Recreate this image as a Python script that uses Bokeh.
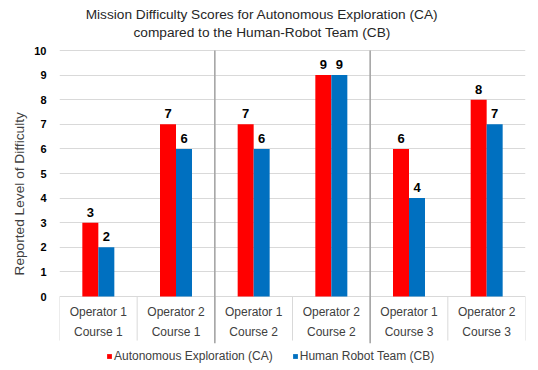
from bokeh.plotting import figure
from bokeh.models import Range1d, FixedTicker, Title, Label, Legend, LegendItem
from bokeh.embed import file_html
from bokeh.resources import INLINE
from bokeh.core.properties import value

# ---- data ----
operators = ["Operator 1", "Operator 2", "Operator 1", "Operator 2", "Operator 1", "Operator 2"]
courses = ["Course 1", "Course 1", "Course 2", "Course 2", "Course 3", "Course 3"]
ca_values = [3, 7, 7, 9, 6, 8]
cb_values = [2, 6, 6, 9, 4, 7]
y_ticks = [0, 1, 2, 3, 4, 5, 6, 7, 8, 9, 10]
series_names = ["Autonomous Exploration (CA)", "Human Robot Team (CB)"]
series_colors = ["#FF0000", "#0070C0"]
title_lines = ["Mission Difficulty Scores for Autonomous Exploration (CA)",
               "compared to the Human-Robot Team (CB)"]
y_label = "Reported Level of Difficulty"
course_separators = [2, 4]

FONT = "Liberation Sans"
n = len(ca_values)
centers = [i + 0.5 for i in range(n)]
bar_w = 0.206
red_x = [c - bar_w / 2 for c in centers]
blue_x = [c + bar_w / 2 for c in centers]

W, H = 530, 364
px_per_unit = 24.6
top_gap, bottom_gap = 50, 68          # pixels above value 10 / below value 0
y_hi = 10 + top_gap / px_per_unit
y_lo = -bottom_gap / px_per_unit

p = figure(width=W, height=H, x_range=Range1d(0, n), y_range=Range1d(y_lo, y_hi),
           output_backend="svg", toolbar_location=None,
           min_border_left=59, min_border_right=5, min_border_top=0, min_border_bottom=0)
p.title = None

# chart title (two centred lines), frame-relative screen units
for line, ty in zip(title_lines, (H - 14, H - 31.5)):
    p.add_layout(Label(x=202.5, y=ty, x_units="screen", y_units="screen", text=line,
                       text_align="center", text_baseline="alphabetic", text_font=FONT,
                       text_font_size="13.7px", text_color="#262626"))

# y-axis title, placed over the value range
p.add_layout(Title(text=y_label, align="left", offset=89,
                   text_font=FONT, text_font_size="13.7px", text_font_style="normal",
                   text_color="#404040", standoff=10), "left")

p.outline_line_color = None
p.xaxis.visible = False
p.xgrid.visible = False
p.ygrid.ticker = FixedTicker(ticks=y_ticks)
p.ygrid.grid_line_color = "#d9d9d9"
p.yaxis.ticker = FixedTicker(ticks=y_ticks)
p.yaxis.axis_line_color = None
p.yaxis.major_tick_line_color = None
p.yaxis.minor_tick_line_color = None
p.yaxis.major_label_text_font = FONT
p.yaxis.major_label_text_font_style = "bold"
p.yaxis.major_label_text_font_size = "11px"
p.yaxis.major_label_text_color = "#000000"
p.yaxis.major_label_standoff = 7

# category-label area borders and course separators
bounds = list(range(n + 1))
p.segment(x0=bounds, y0=[0] * len(bounds), x1=bounds, y1=[-1.79] * len(bounds),
          line_color="#d9d9d9", line_width=1)
p.segment(x0=course_separators, y0=[-1.9] * 2, x1=course_separators, y1=[10] * 2,
          line_color="#a6a6a6", line_width=1.6)

r1 = p.vbar(x=red_x, top=ca_values, bottom=0, width=bar_w, fill_color=series_colors[0], line_color=None)
r2 = p.vbar(x=blue_x, top=cb_values, bottom=0, width=bar_w, fill_color=series_colors[1], line_color=None)

for xs, vals in ((red_x, ca_values), (blue_x, cb_values)):
    p.text(x=xs, y=vals, text=[str(v) for v in vals], text_align="center", text_baseline="bottom",
           y_offset=-6, text_font=value(FONT), text_font_style="bold", text_font_size="13px",
           text_color="#000000")

p.text(x=centers, y=[-0.65] * n, text=operators, text_align="center", text_baseline="middle",
       text_font=value(FONT), text_font_size="12px", text_color="#404040")
p.text(x=centers, y=[-1.46] * n, text=courses, text_align="center", text_baseline="middle",
       text_font=value(FONT), text_font_size="12px", text_color="#404040")

legend = Legend(items=[LegendItem(label=series_names[0], renderers=[r1]),
                       LegendItem(label=series_names[1], renderers=[r2])],
                location=(47, 1), orientation="horizontal",
                glyph_width=6, glyph_height=6, label_height=6, label_standoff=2, spacing=19,
                padding=0, margin=0, border_line_color=None, background_fill_alpha=0,
                label_text_font=FONT, label_text_font_size="12px", label_text_color="#404040")
p.add_layout(legend)

open("out.html", "w").write(file_html(p, INLINE))
